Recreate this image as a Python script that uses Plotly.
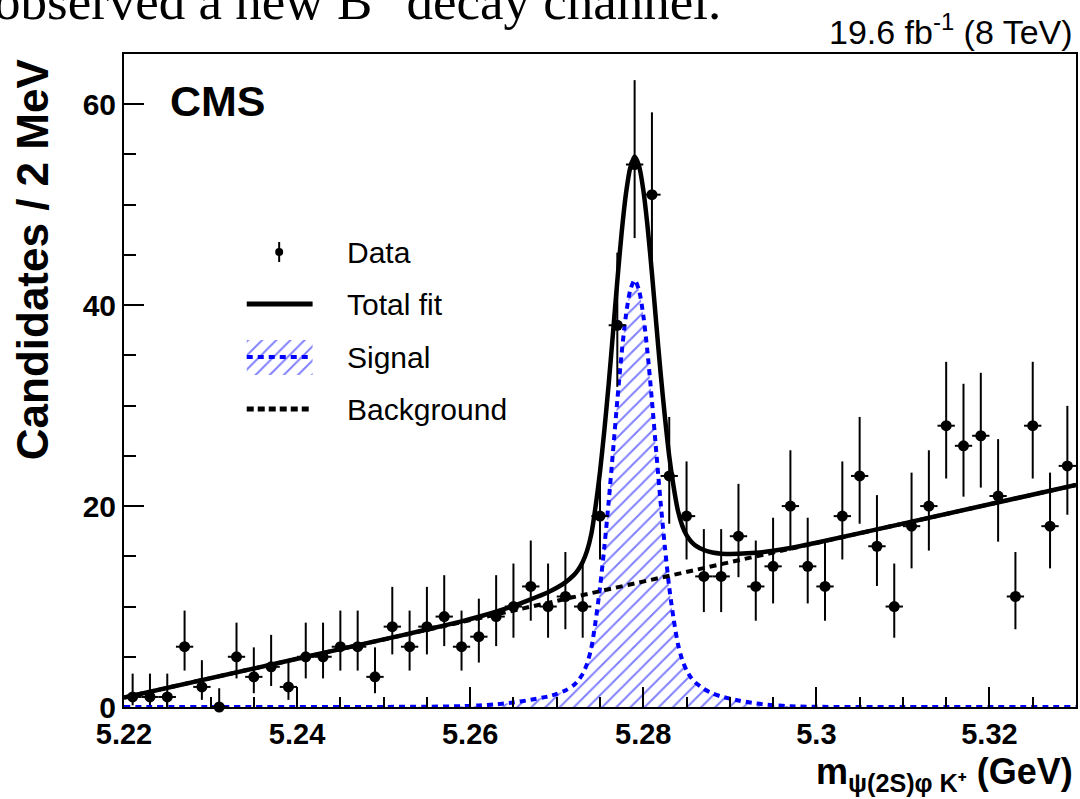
import numpy as np
import plotly.graph_objects as go

FONT = "Liberation Sans"

# ---------------- data ----------------
bin_low = 5.22
bin_width = 0.002
counts = [1, 1, 1, 6, 2, 0, 5, 3, 4, 2,
          5, 5, 6, 6, 3, 8, 6, 8, 9, 6,
          7, 9, 10, 12, 10, 11, 10, 19, 38, 54,
          51, 23, 19, 13, 13, 17, 12, 14, 20, 14,
          12, 19, 23, 16, 10, 18, 20, 28, 26, 27,
          21, 11, 28, 18, 24]

# signal component of the fit
sig_x = [5.2200, 5.2400, 5.2500, 5.2550, 5.2590, 5.2610, 5.2630, 5.2650, 5.2670, 5.2690,
         5.2700, 5.2710, 5.2720, 5.2725, 5.2730, 5.2735, 5.2740, 5.2745, 5.2750, 5.2755,
         5.2760, 5.2765, 5.2770, 5.2775, 5.2780, 5.2785, 5.2790, 5.2795, 5.2800, 5.2805,
         5.2810, 5.2815, 5.2820, 5.2825, 5.2830, 5.2835, 5.2840, 5.2845, 5.2850, 5.2855,
         5.2860, 5.2870, 5.2880, 5.2890, 5.2910, 5.2930, 5.2950, 5.2970, 5.3000, 5.3100,
         5.3300]
sig_y = [0.0, 0.0, 0.01, 0.03, 0.08, 0.15, 0.27, 0.45, 0.72, 1.05,
         1.30, 1.65, 2.20, 2.65, 3.30, 4.30, 5.90, 8.60, 11.9, 15.9,
         20.4, 25.4, 30.5, 35.2, 39.0, 41.5, 42.5, 41.5, 39.0, 35.2,
         30.5, 25.4, 20.4, 15.9, 11.9, 8.8, 6.3, 4.7, 3.65, 2.95,
         2.45, 1.80, 1.35, 1.05, 0.65, 0.36, 0.18, 0.08, 0.02, 0.0,
         0.0]

# linear background component (end points)
bkg_x = [5.22, 5.33]
bkg_y = [0.95, 22.1]

x_tick_vals = [5.22, 5.24, 5.26, 5.28, 5.30, 5.32]
x_tick_text = ["5.22", "5.24", "5.26", "5.28", "5.3", "5.32"]
y_tick_vals = [0, 20, 40, 60]
y_tick_text = ["0", "20", "40", "60"]

legend_labels = ["Data", "Total fit", "Signal", "Background"]

# ---------------- derived ----------------
bin_centers = [round(bin_low + bin_width * (i + 0.5), 4) for i in range(len(counts))]
# Poisson (Gehrels) 68% intervals
err_hi = [float(np.sqrt(n + 0.75) + 1.0) for n in counts]
err_lo = [float(n - n * (1 - 1 / (9 * n) - 1 / (3 * np.sqrt(n))) ** 3) if n > 0 else 0.0
          for n in counts]
slope = (bkg_y[1] - bkg_y[0]) / (bkg_x[1] - bkg_x[0])
total_y = [bkg_y[0] + slope * (x - bkg_x[0]) + s for x, s in zip(sig_x, sig_y)]

BLUE = "#0000ff"
HATCH = dict(shape="/", fgcolor=BLUE, bgcolor="rgba(0,0,0,0)", size=10, solidity=0.2)
fig = go.Figure()

# signal (hatched)
fig.add_trace(go.Scatter(
    x=sig_x, y=sig_y, mode="lines", fill="tozeroy",
    fillcolor="rgba(0,0,0,0)", fillpattern=HATCH,
    line=dict(color=BLUE, width=4, dash="6px,5px", shape="spline", smoothing=0.8),
    showlegend=False, hoverinfo="skip"))
# background
fig.add_trace(go.Scatter(
    x=bkg_x, y=bkg_y, mode="lines",
    line=dict(color="black", width=4, dash="7px,5px"),
    showlegend=False, hoverinfo="skip"))
# total fit
fig.add_trace(go.Scatter(
    x=sig_x, y=total_y, mode="lines",
    line=dict(color="black", width=4.5, shape="spline", smoothing=0.8),
    showlegend=False, hoverinfo="skip"))
# data
fig.add_trace(go.Scatter(
    x=bin_centers, y=counts, mode="markers",
    marker=dict(color="black", size=11),
    error_y=dict(type="data", symmetric=False, array=err_hi, arrayminus=err_lo,
                 color="black", thickness=2, width=0),
    error_x=dict(type="constant", value=bin_width / 2, color="black", thickness=2, width=0),
    cliponaxis=False, showlegend=False))

# ---------------- manual legend (pixel overlay axes) ----------------
LX0, LX1 = 247, 313
LY = [252, 304, 357, 409]
TX = 345
fig.add_trace(go.Scatter(
    x=[(LX0 + LX1) / 2 - 0.5], y=[LY[0]], mode="markers", xaxis="x2", yaxis="y2",
    marker=dict(color="black", size=8),
    error_y=dict(type="constant", value=10, color="black", thickness=2, width=0),
    showlegend=False, hoverinfo="skip", cliponaxis=False))
fig.add_trace(go.Scatter(
    x=[LX0, LX1], y=[LY[1], LY[1]], mode="lines", xaxis="x2", yaxis="y2",
    line=dict(color="black", width=5), showlegend=False, hoverinfo="skip"))
fig.add_trace(go.Scatter(
    x=[LX0, LX1, LX1, LX0, LX0], y=[LY[2] - 17, LY[2] - 17, LY[2] + 18, LY[2] + 18, LY[2] - 17],
    mode="lines", fill="toself", xaxis="x2", yaxis="y2",
    fillcolor="rgba(0,0,0,0)", fillpattern=HATCH,
    line=dict(width=0, color="rgba(0,0,0,0)"), showlegend=False, hoverinfo="skip"))
fig.add_trace(go.Scatter(
    x=[LX0, LX1], y=[LY[2], LY[2]], mode="lines", xaxis="x2", yaxis="y2",
    line=dict(color=BLUE, width=4, dash="6px,5px"), showlegend=False, hoverinfo="skip"))
fig.add_trace(go.Scatter(
    x=[LX0, LX1], y=[LY[3], LY[3]], mode="lines", xaxis="x2", yaxis="y2",
    line=dict(color="black", width=5, dash="7px,4px"), showlegend=False, hoverinfo="skip"))

annotations = []
for lab, yy in zip(legend_labels, LY):
    annotations.append(dict(x=TX, y=yy, xref="x2", yref="y2", text=lab, showarrow=False,
                            xanchor="left", yanchor="middle",
                            font=dict(family=FONT, size=30, color="black")))

# CMS label
annotations.append(dict(x=0.046, y=0.968, xref="paper", yref="paper", text="CMS",
                        showarrow=False, xanchor="left", yanchor="top",
                        font=dict(family=FONT, size=43, color="black", weight="bold")))
# lumi label
annotations.append(dict(x=0.9985, y=1.002, xref="paper", yref="paper",
                        text="19.6 fb<sup>-1</sup> (8 TeV)", showarrow=False,
                        xanchor="right", yanchor="bottom",
                        font=dict(family=FONT, size=34, color="black")))
# y title
annotations.append(dict(x=-0.096, y=0.996, xref="paper", yref="paper",
                        text="Candidates / 2 MeV", textangle=-90, showarrow=False,
                        xanchor="center", yanchor="top",
                        font=dict(family=FONT, size=44, color="black", weight="bold")))
# x title
annotations.append(dict(x=0.999, y=-0.064, xref="paper", yref="paper",
                        text="m<sub>ψ(2S)φ K⁺</sub> (GeV)", showarrow=False,
                        xanchor="right", yanchor="top",
                        font=dict(family=FONT, size=36, color="black", weight="bold")))
# cropped caption at the top
annotations.append(dict(x=-0.1384, y=1.034, xref="paper", yref="paper",
                        text="observed a new B<sup>+</sup> decay channel.", showarrow=False,
                        xanchor="left", yanchor="bottom",
                        font=dict(family="Liberation Serif", size=53, color="black")))

axis_common = dict(showline=True, linewidth=2, linecolor="black", mirror=True,
                   showgrid=False, zeroline=False, ticks="inside", tickwidth=2,
                   tickcolor="black", tickmode="array")

fig.update_layout(
    width=1080, height=799,
    margin=dict(l=124, r=2, t=54, b=92),
    paper_bgcolor="white", plot_bgcolor="white",
    xaxis=dict(range=[5.22, 5.33], tickvals=x_tick_vals, ticktext=x_tick_text,
               ticklen=20, ticklabelstandoff=0,
               tickfont=dict(family=FONT, size=29, color="black", weight="bold"),
               minor=dict(tick0=5.22, dtick=0.005, ticks="inside", ticklen=10,
                          tickwidth=2, tickcolor="black", showgrid=False),
               **axis_common),
    yaxis=dict(range=[0, 65], tickvals=y_tick_vals, ticktext=y_tick_text,
               ticklen=20,
               tickfont=dict(family=FONT, size=30, color="black", weight="bold"),
               minor=dict(tick0=0, dtick=5, ticks="inside", ticklen=12,
                          tickwidth=2, tickcolor="black", showgrid=False),
               **axis_common),
    xaxis2=dict(overlaying="x", range=[124, 1078], visible=False, fixedrange=True),
    yaxis2=dict(overlaying="y", range=[707, 54], visible=False, fixedrange=True),
    annotations=annotations,
    showlegend=False,
)

fig.write_html("out.html")
